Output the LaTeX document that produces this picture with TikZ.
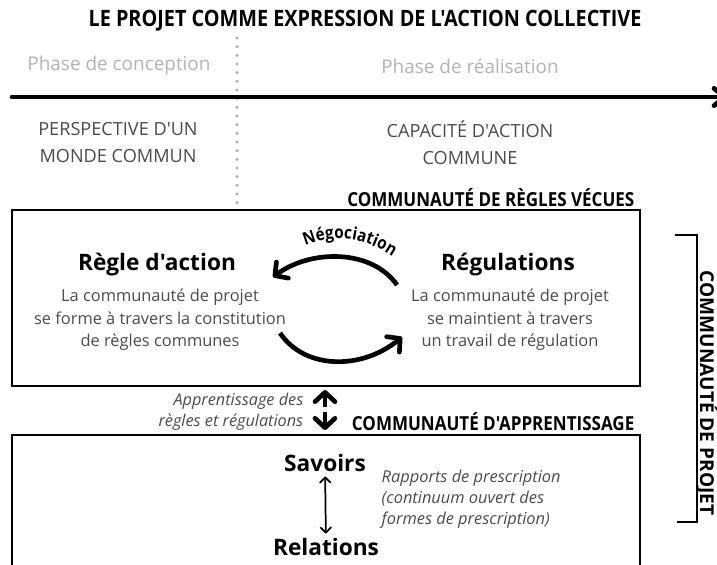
\documentclass[tikz,border=0pt]{standalone}
\usepackage{fontspec}
\setmainfont{Open Sans}[Ligatures=TeXOff]
\newfontfamily\headfont{Open Sans}[FakeStretch=0.88]
\usepackage{tikz}
\usetikzlibrary{arrows,arrows.meta,positioning,decorations.text}
\definecolor{phasegray}{RGB}{178,178,178}
\definecolor{dotgray}{RGB}{170,170,170}
\definecolor{textgray}{RGB}{75,75,75}
\tikzset{
        maintitle/.style = {font=\headfont\bfseries\fontsize{16.9}{20}\selectfont},
        phase/.style = {text=phasegray, font=\fontsize{14.2}{17}\selectfont},
        caps/.style = {text=textgray, align=center, font=\fontsize{13.6}{20.25}\selectfont},
        commlabel/.style = {anchor=east, font=\headfont\bfseries\fontsize{14.5}{17}\selectfont},
        heading/.style = {font=\bfseries\fontsize{17}{20}\selectfont},
        body/.style = {text=textgray, align=center, font=\fontsize{12.3}{17}\selectfont},
        note/.style = {text=textgray, font=\itshape\fontsize{12.2}{15.5}\selectfont},
        frame/.style = {draw, line width=1.5pt},
        bigarrow/.style = {line width=3.5pt, -{Straight Barb[length=7pt,width=15pt,line width=3.5pt,round]}},
        thinarrow/.style = {line width=1.3pt, {Straight Barb[length=4pt,width=8pt,round]}-{Straight Barb[length=4pt,width=8pt,round]}},
    }

\begin{document}
\begin{tikzpicture}[x=0.75pt,y=0.75pt,yscale=-1,xscale=1]
    \useasboundingbox (0,0) rectangle (717,564);
    
    % Title
    \node (title) [maintitle] at (365,21) {LE PROJET COMME EXPRESSION DE L'ACTION COLLECTIVE};
    
    % Time line and phase separator
    \coordinate (sepTop) at (237,38);
    \coordinate (sepBottom) at (237,207);
    \draw [dotgray, line width=2.5pt, line cap=round, dash pattern=on 0pt off 6.5pt] (sepTop) -- (sepBottom);
    \coordinate (lineStart) at (12,97);
    \coordinate (lineEnd) at (727,97);
    \draw [line width=3.5pt, line cap=round, -{Straight Barb[length=8pt,width=13pt,round]}] (lineStart) -- (lineEnd);
    
    % Text Node
    \node (conception) [phase] at (119,66) {Phase de conception};
    \node (realisation) [phase] at (470,66) {Phase de réalisation};
    \node (perspective) [caps] at (118,143) {PERSPECTIVE D'UN\\MONDE COMMUN};
    \node (capacite) [caps] at (470,143) {CAPACITÉ D'ACTION\\COMMUNE};
    
    % Community of rules
    \node (vecues) [commlabel] at (639,198) {COMMUNAUTÉ DE RÈGLES VÉCUES};
    \draw [frame] (12,210) rectangle (640,386);
    \node (regle) [heading] at (157,265) {Règle d'action};
    \node (regleText) [body] at (160,320) {La communauté de projet\\se forme à travers la constitution\\de règles communes};
    \node (regul) [heading] at (508,265) {Régulations};
    \node (regulText) [body] at (510,320) {La communauté de projet\\se maintient à travers\\un travail de régulation};
    
    %Curve Lines
    \coordinate (negoStart) at (397,285);
    \coordinate (negoEnd) at (273,277);
    \coordinate (retourStart) at (280,333);
    \coordinate (retourEnd) at (402,337);
    \draw [bigarrow] (negoStart) .. controls (372,249) and (311,249) .. (negoEnd);
    \draw [bigarrow] (retourStart) .. controls (305,370) and (362,370) .. (retourEnd);
    \path [decorate, decoration={text along path, text align=center,
        text={|\headfont\bfseries\fontsize{13}{15}\selectfont|Négociation}}]
        (298,249) .. controls (330,233) and (364,235) .. (399,261);
    
    % Learning between the two communities
    \coordinate (upFrom) at (325,407);
    \coordinate (upTo) at (325,390);
    \coordinate (downFrom) at (325,412);
    \coordinate (downTo) at (325,430);
    \draw [bigarrow] (upFrom) -- (upTo);
    \draw [bigarrow] (downFrom) -- (downTo);
    \node (apprentissage) [note, anchor=east, align=right] at (308,412) {Apprentissage des\\règles et régulations};
    \node (apprLabel) [commlabel] at (639,422) {COMMUNAUTÉ D'APPRENTISSAGE};
    
    % Community of learning
    \draw [frame] (12,435) rectangle (640,600);
    \node (savoirs) [heading] at (325,463) {Savoirs};
    \node (relations) [heading] at (326,547) {Relations};
    \draw [thinarrow] (savoirs) -- (relations);
    \node (prescription) [note, anchor=west, align=left, font=\itshape\fontsize{12.3}{15.75}\selectfont] at (377,499) {Rapports de prescription\\(continuum ouvert des\\formes de prescription)};
    
    % Project community bracket
    \coordinate (brTop) at (675,235);
    \coordinate (brBottom) at (677,522);
    \draw [line width=1.3pt] (brTop) -- (697,235) -- (697,522) -- (brBottom);
    \node (projet) [anchor=center, rotate=-90, font=\bfseries\fontsize{14.3}{17}\selectfont] at (707,393) {COMMUNAUTÉ DE PROJET};
    
\end{tikzpicture}
\end{document}
